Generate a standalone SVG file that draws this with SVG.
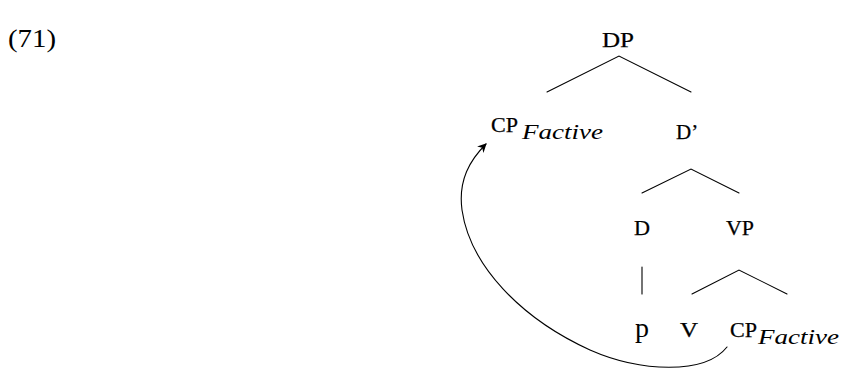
<svg xmlns="http://www.w3.org/2000/svg" width="841" height="369" viewBox="0 0 841 369">
  <style>
    .lbl { font-family: "Liberation Serif", "Times New Roman", serif; font-size: 21px; fill: #000; stroke: #000; stroke-width: 0.25; }
    .sub { font-family: "Liberation Serif", "Times New Roman", serif; font-style: italic; font-size: 21px; fill: #000; }
    .num { font-family: "Liberation Serif", "Times New Roman", serif; font-size: 25px; fill: #000; }
    .edge { stroke: #000; stroke-width: 1.1; fill: none; stroke-linecap: round; }
  </style>
  <defs>
    <marker id="stealth" viewBox="0 0 10 10" refX="9" refY="5" markerWidth="9" markerHeight="9" markerUnits="userSpaceOnUse" orient="auto">
      <path d="M0,0 L10,5 L0,10 L3,5 Z" fill="#000"/>
    </marker>
  </defs>

  <rect width="841" height="369" fill="#fff"/>

  <text class="num" x="8" y="47" textLength="48" lengthAdjust="spacingAndGlyphs">(71)</text>

  <g id="node-DP">
    <text class="lbl" x="602" y="47" textLength="32" lengthAdjust="spacingAndGlyphs">DP</text>
  </g>
  <g id="node-CP-factive-spec">
    <text class="lbl" x="491" y="132" textLength="27" lengthAdjust="spacingAndGlyphs">CP</text>
    <text class="sub" x="522" y="139" textLength="81" lengthAdjust="spacingAndGlyphs">Factive</text>
  </g>
  <g id="node-Dbar">
    <text class="lbl" x="676" y="139">D’</text>
  </g>
  <g id="node-D">
    <text class="lbl" x="634" y="235" textLength="16" lengthAdjust="spacingAndGlyphs">D</text>
  </g>
  <g id="node-VP">
    <text class="lbl" x="726" y="235" textLength="28" lengthAdjust="spacingAndGlyphs">VP</text>
  </g>
  <g id="node-p">
    <text class="num" x="635" y="337" style="font-size:28px">p</text>
  </g>
  <g id="node-V">
    <text class="lbl" x="680" y="337" textLength="18" lengthAdjust="spacingAndGlyphs">V</text>
  </g>
  <g id="node-CP-factive-comp">
    <text class="lbl" x="730" y="337" textLength="27" lengthAdjust="spacingAndGlyphs">CP</text>
    <text class="sub" x="758" y="344" textLength="81" lengthAdjust="spacingAndGlyphs">Factive</text>
  </g>

  <g id="connectors">
    <polyline class="edge" points="547,92 619,56 691,92"/>
    <polyline class="edge" points="642,193 691,169 739,193"/>
    <line class="edge" x1="642" y1="267" x2="642" y2="294"/>
    <polyline class="edge" points="692,294 739,270 787,294"/>
    <path class="edge" marker-end="url(#stealth)" d="M727,347 C705,375 640,372 590,350 C520,318 470,265 462,210 C458,180 470,160 486,144"/>
  </g>
</svg>
